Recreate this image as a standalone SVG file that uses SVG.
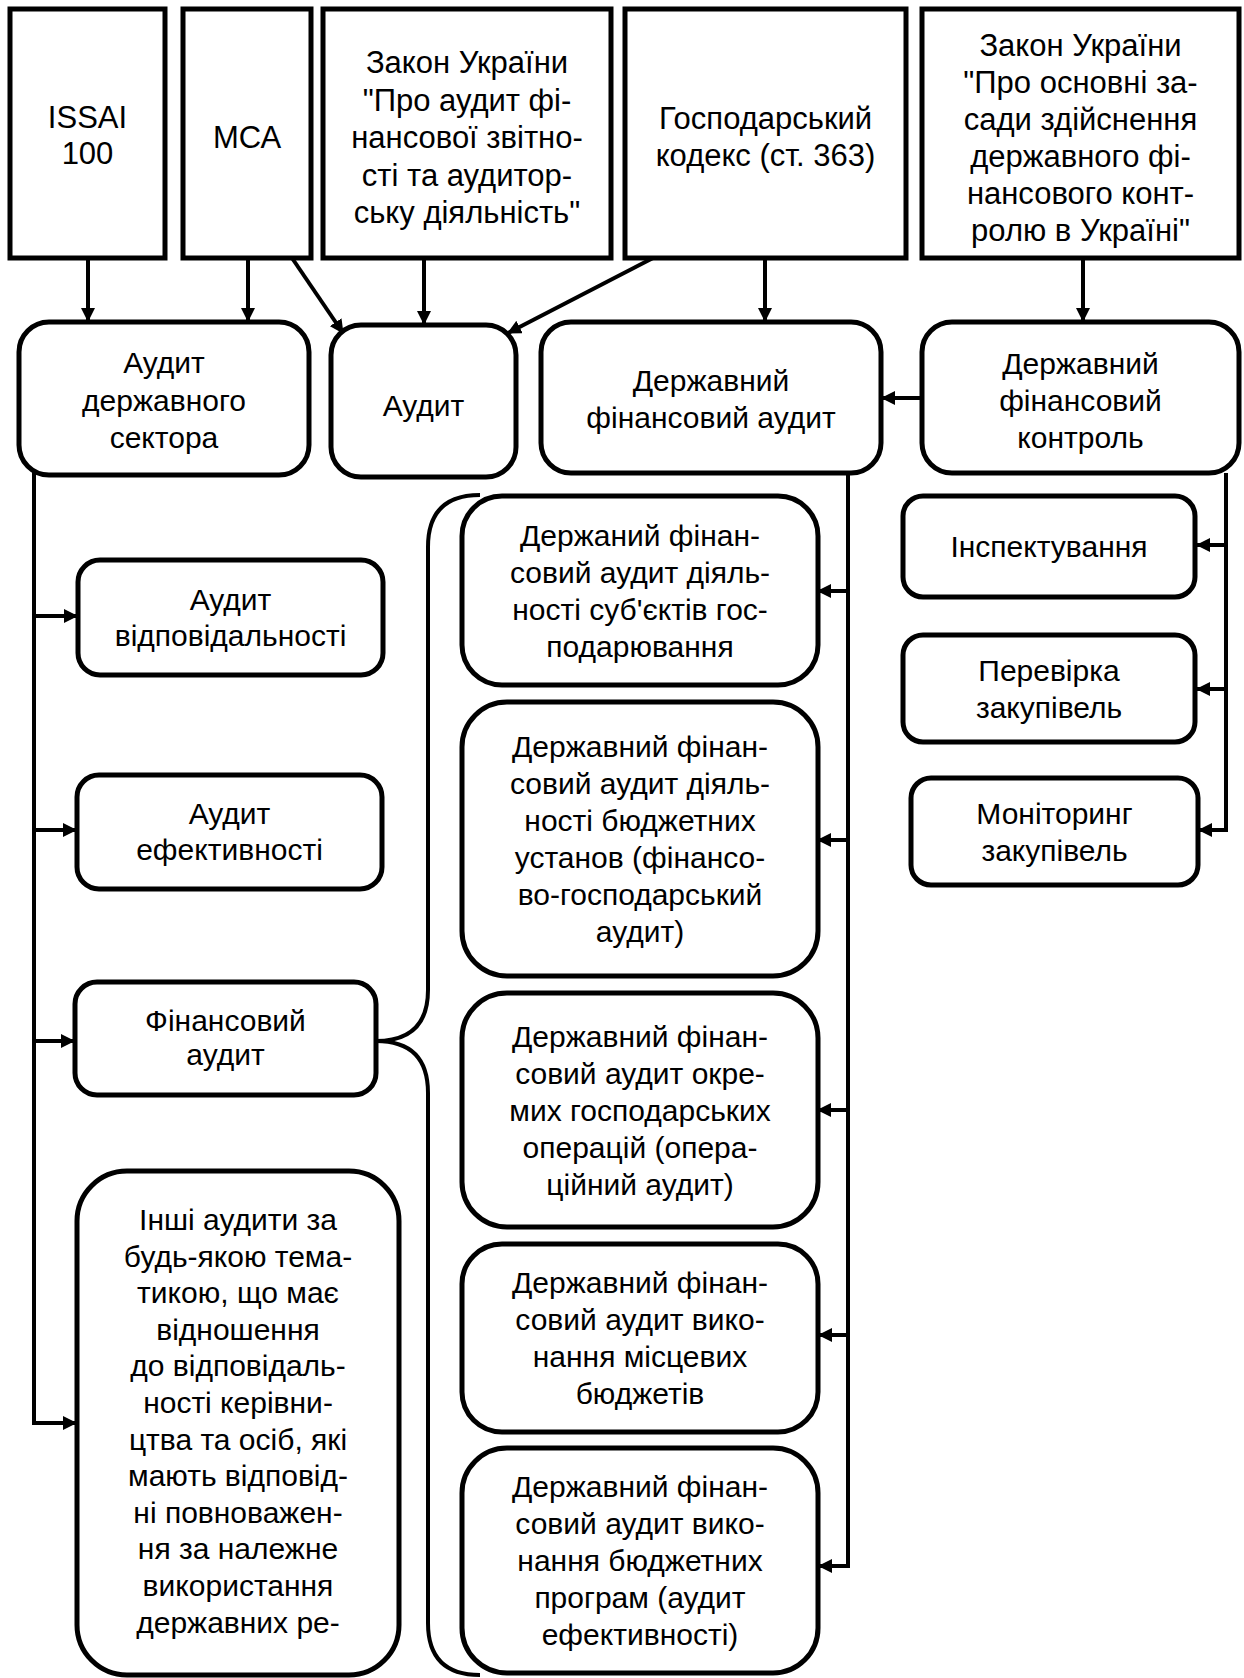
<svg xmlns="http://www.w3.org/2000/svg" width="1244" height="1678" viewBox="0 0 1244 1678">
<style>
.box{fill:#fff;stroke:#000;stroke-width:5}
.t{font-family:"Liberation Sans",Arial,sans-serif;font-size:30px;fill:#000;text-anchor:middle}
.tt{font-family:"Liberation Sans",Arial,sans-serif;font-size:31px;fill:#000;text-anchor:middle}
.ln{fill:none;stroke:#000;stroke-width:4}
</style>
<defs>
<marker id="ah" markerUnits="userSpaceOnUse" markerWidth="14" markerHeight="14" refX="13" refY="7" orient="auto">
<path d="M0,0 L14,7 L0,14 z" fill="#000"/>
</marker>
</defs>
<rect width="1244" height="1678" fill="#fff"/>
<g id="connectors">
<line class="ln" x1="88" y1="258" x2="88" y2="321" marker-end="url(#ah)"/>
<line class="ln" x1="248" y1="258" x2="248" y2="321" marker-end="url(#ah)"/>
<line class="ln" x1="292" y1="258" x2="343" y2="333" marker-end="url(#ah)"/>
<line class="ln" x1="424" y1="258" x2="424" y2="324" marker-end="url(#ah)"/>
<line class="ln" x1="653" y1="258" x2="508" y2="333" marker-end="url(#ah)"/>
<line class="ln" x1="765" y1="258" x2="765" y2="321" marker-end="url(#ah)"/>
<line class="ln" x1="1083" y1="258" x2="1083" y2="321" marker-end="url(#ah)"/>
<line class="ln" x1="922" y1="398" x2="882" y2="398" marker-end="url(#ah)"/>
<path class="ln" d="M34,472 L34,1423 L76,1423" marker-end="url(#ah)"/>
<line class="ln" x1="34" y1="616" x2="77" y2="616" marker-end="url(#ah)"/>
<line class="ln" x1="34" y1="830" x2="76" y2="830" marker-end="url(#ah)"/>
<line class="ln" x1="34" y1="1041" x2="74" y2="1041" marker-end="url(#ah)"/>
<path class="ln" d="M848,473 L848,1566 L819,1566" marker-end="url(#ah)"/>
<line class="ln" x1="848" y1="591" x2="818" y2="591" marker-end="url(#ah)"/>
<line class="ln" x1="848" y1="840" x2="818" y2="840" marker-end="url(#ah)"/>
<line class="ln" x1="848" y1="1110" x2="818" y2="1110" marker-end="url(#ah)"/>
<line class="ln" x1="848" y1="1335" x2="819" y2="1335" marker-end="url(#ah)"/>
<path class="ln" d="M1226,473 L1226,830 L1199,830" marker-end="url(#ah)"/>
<line class="ln" x1="1226" y1="545" x2="1197" y2="545" marker-end="url(#ah)"/>
<line class="ln" x1="1226" y1="689" x2="1197" y2="689" marker-end="url(#ah)"/>
<path class="ln" d="M376,1041 Q428,1041 428,990 L428,547 Q428,495 480,495"/>
<path class="ln" d="M376,1041 Q428,1041 428,1093 L428,1623 Q428,1675 480,1675"/>
</g>
<g id="n-issai"><rect class="box" x="10" y="9" width="155" height="249"/>
<text class="tt"><tspan x="87.5" y="128">ISSAI</tspan><tspan x="87.5" y="164">100</tspan></text></g>
<g id="n-msa"><rect class="box" x="183" y="9" width="128" height="249"/>
<text class="tt" x="247" y="148">МСА</text></g>
<g id="n-zakon1"><rect class="box" x="323" y="9" width="288" height="249"/>
<text class="tt"><tspan x="467" y="73">Закон України</tspan><tspan x="467" y="111">"Про аудит фі-</tspan><tspan x="467" y="148">нансової звітно-</tspan><tspan x="467" y="186">сті та аудитор-</tspan><tspan x="467" y="223">ську діяльність"</tspan></text></g>
<g id="n-gosp"><rect class="box" x="625" y="9" width="281" height="249"/>
<text class="tt"><tspan x="765.5" y="129">Господарський</tspan><tspan x="765.5" y="166">кодекс (ст. 363)</tspan></text></g>
<g id="n-zakon2"><rect class="box" x="922" y="9" width="317" height="249"/>
<text class="tt"><tspan x="1080.5" y="56">Закон України</tspan><tspan x="1080.5" y="93">"Про основні за-</tspan><tspan x="1080.5" y="130">сади здійснення</tspan><tspan x="1080.5" y="167">державного фі-</tspan><tspan x="1080.5" y="204">нансового конт-</tspan><tspan x="1080.5" y="241">ролю в Україні"</tspan></text></g>
<g id="n-ads"><rect class="box" x="19" y="322" width="290" height="153" rx="30"/>
<text class="t"><tspan x="164" y="373">Аудит</tspan><tspan x="164" y="411">державного</tspan><tspan x="164" y="448">сектора</tspan></text></g>
<g id="n-audit"><rect class="box" x="331" y="325" width="185" height="152" rx="30"/>
<text class="t" x="423.5" y="416">Аудит</text></g>
<g id="n-dfa"><rect class="box" x="541" y="322" width="340" height="151" rx="30"/>
<text class="t"><tspan x="711" y="391">Державний</tspan><tspan x="711" y="428">фінансовий аудит</tspan></text></g>
<g id="n-dfk"><rect class="box" x="922" y="322" width="317" height="151" rx="30"/>
<text class="t"><tspan x="1080.5" y="374">Державний</tspan><tspan x="1080.5" y="411">фінансовий</tspan><tspan x="1080.5" y="448">контроль</tspan></text></g>
<g id="n-avid"><rect class="box" x="78" y="560" width="305" height="115" rx="22"/>
<text class="t"><tspan x="230.5" y="610">Аудит</tspan><tspan x="230.5" y="646">відповідальності</tspan></text></g>
<g id="n-aef"><rect class="box" x="77" y="775" width="305" height="114" rx="22"/>
<text class="t"><tspan x="229.5" y="824">Аудит</tspan><tspan x="229.5" y="860">ефективності</tspan></text></g>
<g id="n-fa"><rect class="box" x="75" y="982" width="301" height="113" rx="22"/>
<text class="t"><tspan x="225.5" y="1031">Фінансовий</tspan><tspan x="225.5" y="1065">аудит</tspan></text></g>
<g id="n-inshi"><rect class="box" x="77" y="1171" width="322" height="504" rx="50"/>
<text class="t"><tspan x="238" y="1230">Інші аудити за</tspan><tspan x="238" y="1267">будь-якою тема-</tspan><tspan x="238" y="1303">тикою, що має</tspan><tspan x="238" y="1340">відношення</tspan><tspan x="238" y="1376">до відповідаль-</tspan><tspan x="238" y="1413">ності керівни-</tspan><tspan x="238" y="1450">цтва та осіб, які</tspan><tspan x="238" y="1486">мають відповід-</tspan><tspan x="238" y="1523">ні повноважен-</tspan><tspan x="238" y="1559">ня за належне</tspan><tspan x="238" y="1596">використання</tspan><tspan x="238" y="1633">державних ре-</tspan></text></g>
<g id="n-m1"><rect class="box" x="462" y="496" width="356" height="189" rx="40"/>
<text class="t"><tspan x="640" y="546">Держаний фінан-</tspan><tspan x="640" y="583">совий аудит діяль-</tspan><tspan x="640" y="620">ності суб'єктів гос-</tspan><tspan x="640" y="657">подарювання</tspan></text></g>
<g id="n-m2"><rect class="box" x="462" y="702" width="356" height="274" rx="45"/>
<text class="t"><tspan x="640" y="757">Державний фінан-</tspan><tspan x="640" y="794">совий аудит діяль-</tspan><tspan x="640" y="831">ності бюджетних</tspan><tspan x="640" y="868">установ (фінансо-</tspan><tspan x="640" y="905">во-господарський</tspan><tspan x="640" y="942">аудит)</tspan></text></g>
<g id="n-m3"><rect class="box" x="462" y="993" width="356" height="234" rx="45"/>
<text class="t"><tspan x="640" y="1047">Державний фінан-</tspan><tspan x="640" y="1084">совий аудит окре-</tspan><tspan x="640" y="1121">мих господарських</tspan><tspan x="640" y="1158">операцій (опера-</tspan><tspan x="640" y="1195">ційний аудит)</tspan></text></g>
<g id="n-m4"><rect class="box" x="462" y="1244" width="356" height="188" rx="40"/>
<text class="t"><tspan x="640" y="1293">Державний фінан-</tspan><tspan x="640" y="1330">совий аудит вико-</tspan><tspan x="640" y="1367">нання місцевих</tspan><tspan x="640" y="1404">бюджетів</tspan></text></g>
<g id="n-m5"><rect class="box" x="462" y="1448" width="356" height="225" rx="45"/>
<text class="t"><tspan x="640" y="1497">Державний фінан-</tspan><tspan x="640" y="1534">совий аудит вико-</tspan><tspan x="640" y="1571">нання бюджетних</tspan><tspan x="640" y="1608">програм (аудит</tspan><tspan x="640" y="1645">ефективності)</tspan></text></g>
<g id="n-insp"><rect class="box" x="903" y="496" width="292" height="101" rx="20"/>
<text class="t" x="1049" y="557">Інспектування</text></g>
<g id="n-perev"><rect class="box" x="903" y="635" width="292" height="107" rx="20"/>
<text class="t"><tspan x="1049" y="681">Перевірка</tspan><tspan x="1049" y="718">закупівель</tspan></text></g>
<g id="n-monit"><rect class="box" x="911" y="778" width="287" height="107" rx="20"/>
<text class="t"><tspan x="1054.5" y="824">Моніторинг</tspan><tspan x="1054.5" y="861">закупівель</tspan></text></g>
</svg>
